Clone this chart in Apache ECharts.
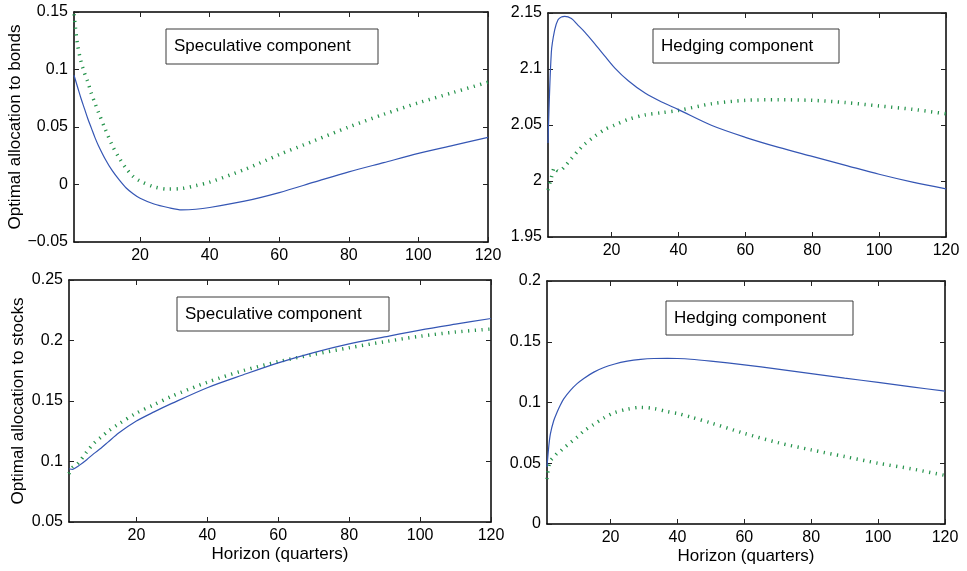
<!DOCTYPE html>
<html>
<head>
<meta charset="utf-8">
<title>Optimal allocation</title>
<script src="https://cdn.jsdelivr.net/npm/echarts@6/dist/echarts.min.js"></script>
<style>
    html, body { margin: 0; padding: 0; background: #fff; }
    #chart { width: 967px; height: 571px; }
</style>
</head>
<body>
<div id="chart"></div>
<script>
// 数据
const xTicks = [20, 40, 60, 80, 100, 120];

// 左上:债券 投机部分
const tlX = [1, 2, 3, 4, 5, 6, 7, 8, 10, 12, 14, 16, 18, 20, 24, 28, 32, 36, 40, 50, 60, 70, 80, 90, 100, 110, 120];
const tlSolid = [0.095, 0.085, 0.075, 0.066, 0.057, 0.049, 0.041, 0.034, 0.022, 0.012, 0.004, -0.003, -0.008, -0.012, -0.017, -0.020, -0.022, -0.0215, -0.020, -0.0145, -0.007, 0.002, 0.011, 0.019, 0.027, 0.034, 0.041];
const tlDotted = [0.148, 0.122, 0.107, 0.097, 0.089, 0.079, 0.071, 0.063, 0.048, 0.034, 0.023, 0.014, 0.007, 0.003, -0.002, -0.004, -0.0035, -0.001, 0.002, 0.013, 0.026, 0.038, 0.050, 0.061, 0.071, 0.080, 0.089];

// 右上:债券 对冲部分
const trX = [1, 2, 3, 4, 5, 6, 8, 10, 12, 15, 18, 21, 25, 30, 35, 40, 50, 60, 70, 80, 90, 100, 110, 120];
const trSolid = [2.034, 2.115, 2.135, 2.144, 2.1465, 2.147, 2.145, 2.139, 2.133, 2.1225, 2.1115, 2.1008, 2.0895, 2.0785, 2.0705, 2.0637, 2.0495, 2.039, 2.030, 2.022, 2.014, 2.006, 1.999, 1.993];
const trDotted = [1.992, 2.003, 2.012, 2.009, 2.010, 2.013, 2.020, 2.027, 2.033, 2.040, 2.046, 2.050, 2.055, 2.059, 2.061, 2.063, 2.069, 2.072, 2.0725, 2.072, 2.070, 2.067, 2.064, 2.060];

// 左下:股票 投机部分
const blX = [1, 2, 3, 4, 6, 8, 10, 12, 15, 20, 25, 30, 40, 50, 60, 70, 80, 90, 100, 110, 120];
const blSolid = [0.094, 0.0935, 0.095, 0.097, 0.1015, 0.1065, 0.111, 0.116, 0.1235, 0.1334, 0.141, 0.148, 0.161, 0.1715, 0.1815, 0.190, 0.1972, 0.203, 0.2086, 0.2135, 0.2182];
const blDotted = [0.090, 0.095, 0.097, 0.100, 0.108, 0.115, 0.120, 0.125, 0.131, 0.140, 0.147, 0.154, 0.1655, 0.175, 0.1825, 0.1885, 0.194, 0.199, 0.2035, 0.207, 0.2095];

// 右下:股票 对冲部分
const brX = [1, 1.5, 2, 3, 4, 5, 6, 8, 10, 12, 15, 18, 21, 25, 29, 33, 37, 40, 44, 50, 60, 70, 80, 90, 100, 110, 120];
const brSolid = [0.047, 0.063, 0.074, 0.085, 0.092, 0.098, 0.103, 0.110, 0.1155, 0.1198, 0.125, 0.1288, 0.1315, 0.134, 0.1355, 0.1362, 0.1363, 0.1362, 0.1356, 0.134, 0.131, 0.1275, 0.1238, 0.1201, 0.1165, 0.1129, 0.1093];
const brDotted = [0.037, 0.047, 0.052, 0.055, 0.058, 0.060, 0.0625, 0.067, 0.0715, 0.0765, 0.082, 0.0873, 0.0915, 0.0945, 0.096, 0.095, 0.0925, 0.091, 0.088, 0.0832, 0.0746, 0.067, 0.061, 0.0555, 0.050, 0.0454, 0.040];

// 颜色和字体
const colors = {
    solid: '#3556b4',
    dotted: '#23924a',
    axis: '#000',
    box: '#3a3a3a'
};
const fontFamily = '"Liberation Sans", Arial, Helvetica, sans-serif';

// 四个子图的位置
const grids = [
    { left: 74, top: 12, width: 414, height: 230 },
    { left: 548, top: 13, width: 398, height: 224 },
    { left: 69, top: 280, width: 422, height: 242 },
    { left: 547, top: 281, width: 398, height: 243 }
];

const yRanges = [
    { min: -0.05, max: 0.15 },
    { min: 1.95, max: 2.15 },
    { min: 0.05, max: 0.25 },
    { min: 0, max: 0.2 }
];

function zip(xs, ys) {
    return xs.map((x, i) => [x, ys[i]]);
}

function yLabel(v) {
    const s = String(parseFloat(v.toFixed(2)));
    return s.replace('-', '\u2212');
}

const xAxes = [];
const yAxes = [];
grids.forEach((g, i) => {
    const bottomRow = i >= 2;
    ['bottom', 'top'].forEach(pos => {
        xAxes.push({
            type: 'value',
            gridIndex: i,
            position: pos,
            min: 1,
            max: 120,
            name: (bottomRow && pos === 'bottom') ? 'Horizon (quarters)' : '',
            nameLocation: 'middle',
            nameGap: 24,
            nameTextStyle: { color: '#000', fontSize: 17, fontFamily: fontFamily },
            axisLine: { show: true, onZero: false, lineStyle: { color: colors.axis, width: 1.5 } },
            axisTick: { show: true, inside: true, length: 5, customValues: xTicks, lineStyle: { color: '#222' } },
            axisLabel: {
                show: pos === 'bottom',
                customValues: xTicks,
                color: '#000',
                fontSize: 16,
                fontFamily: fontFamily,
                margin: 6
            },
            splitLine: { show: false }
        });
    });
    const yName = i === 0 ? 'Optimal allocation to bonds' : (i === 2 ? 'Optimal allocation to stocks' : '');
    ['left', 'right'].forEach(pos => {
        yAxes.push({
            type: 'value',
            gridIndex: i,
            position: pos,
            min: yRanges[i].min,
            max: yRanges[i].max,
            interval: 0.05,
            name: pos === 'left' ? yName : '',
            nameLocation: 'middle',
            nameGap: i === 0 ? 47 : 42,
            nameRotate: 90,
            nameTextStyle: { color: '#000', fontSize: 17, fontFamily: fontFamily },
            axisLine: { show: true, onZero: false, lineStyle: { color: colors.axis, width: 1.5 } },
            axisTick: { show: true, inside: true, length: 5, lineStyle: { color: '#222' } },
            axisLabel: {
                show: pos === 'left',
                color: '#000',
                fontSize: 16,
                fontFamily: fontFamily,
                margin: 6,
                formatter: yLabel
            },
            splitLine: { show: false }
        });
    });
});

// 每个子图两条线:实线和点线
const panels = [
    [tlX, tlSolid, tlDotted],
    [trX, trSolid, trDotted],
    [blX, blSolid, blDotted],
    [brX, brSolid, brDotted]
];
const series = [];
panels.forEach((p, i) => {
    series.push({
        type: 'line',
        xAxisIndex: 2 * i,
        yAxisIndex: 2 * i,
        data: zip(p[0], p[2]),
        showSymbol: false,
        smooth: 0.3,
        lineStyle: { color: colors.dotted, width: 3.5, type: [1.2, 5.5], cap: 'butt' },
        z: 2
    });
    series.push({
        type: 'line',
        xAxisIndex: 2 * i,
        yAxisIndex: 2 * i,
        data: zip(p[0], p[1]),
        showSymbol: false,
        smooth: 0.3,
        lineStyle: { color: colors.solid, width: 1.2 },
        z: 3
    });
});

// 文字框
const boxes = [
    { x: 166, y: 29, w: 212, h: 35, text: 'Speculative component' },
    { x: 653, y: 29, w: 186, h: 34, text: 'Hedging component' },
    { x: 177, y: 297, w: 212, h: 34, text: 'Speculative component' },
    { x: 666, y: 301, w: 187, h: 34, text: 'Hedging component' }
];
const graphic = [];
boxes.forEach(b => {
    graphic.push({
        type: 'rect',
        shape: { x: b.x, y: b.y, width: b.w, height: b.h },
        style: { fill: '#fff', stroke: colors.box, lineWidth: 1 },
        z: 10
    });
    graphic.push({
        type: 'text',
        x: b.x + 8,
        y: b.y + b.h / 2,
        style: {
            text: b.text,
            fill: '#000',
            font: '17px ' + fontFamily,
            verticalAlign: 'middle'
        },
        z: 11
    });
});

const chart = echarts.init(document.getElementById('chart'));
chart.setOption({
    backgroundColor: '#fff',
    animation: false,
    grid: grids,
    xAxis: xAxes,
    yAxis: yAxes,
    series: series,
    graphic: graphic
});
</script>
</body>
</html>
